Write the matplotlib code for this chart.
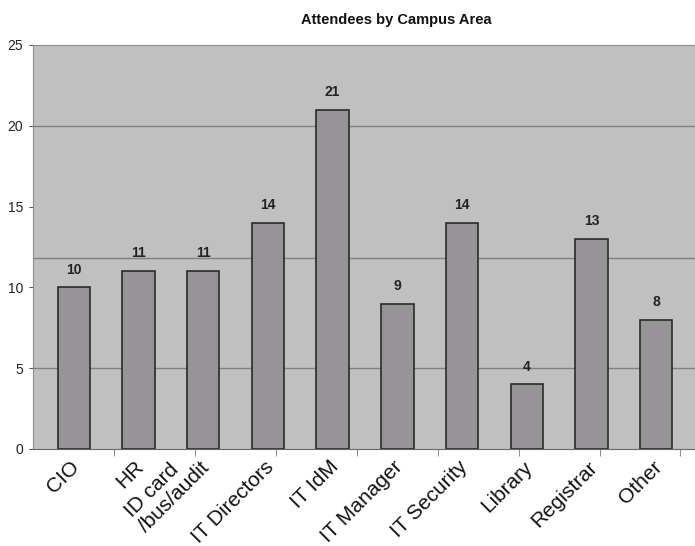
import matplotlib.pyplot as plt
import matplotlib.transforms as mtransforms
import numpy as np

areas = ['CIO', 'HR', 'ID card\n/bus/audit', 'IT Directors', 'IT IdM',
         'IT Manager', 'IT Security', 'Library', 'Registrar', 'Other']
attendees = [10, 11, 11, 14, 21, 9, 14, 4, 13, 8]
y_ticks = [0, 5, 10, 15, 20, 25]
grid_levels = [5, 11.8, 20]

plt.rcParams.update({
    'font.family': ['Liberation Sans', 'DejaVu Sans'],
})

fig = plt.figure(figsize=(6.95, 5.46), dpi=100)
ax = fig.add_axes([33 / 695, 1 - 449 / 546, 1 - 33 / 695, (449 - 45) / 546])
ax.set_facecolor('#c0c0c0')

x = np.arange(len(areas))
for g in grid_levels:
    ax.axhline(g, color='#808080', lw=1.0, zorder=1)

ax.bar(x, attendees, width=0.5, color='#969496', edgecolor='#2a2a2a',
       linewidth=1.2, zorder=2)
for xi, v in zip(x, attendees):
    ax.text(xi, v + 1.1, str(v), ha='center', va='center', fontsize=10,
            fontweight='bold', color='#222222')

ax.set_xlim(-0.63, 9.6)
ax.set_ylim(0, 25)
ax.set_yticks(y_ticks)
ax.set_yticklabels([str(t) for t in y_ticks], fontsize=10, color='#222222')
ax.tick_params(axis='y', length=3, color='#555555', pad=4)

ax.set_xticks(x)
ax.set_xticklabels(areas, rotation=45, ha='right', va='top',
                   rotation_mode='anchor', fontsize=15, color='#111111',
                   linespacing=1.1, multialignment='left')
ax.tick_params(axis='x', length=0, pad=6)
shift = mtransforms.ScaledTranslation(-4 / 100, 0, fig.dpi_scale_trans)
for lab in ax.get_xticklabels():
    lab.set_transform(lab.get_transform() + shift)
    if '\n' in lab.get_text():
        # two-line label sits higher in the original
        lab.set_verticalalignment('center')
ax.set_xticks(np.arange(0.625, 9.5, 1.25), minor=True)
ax.tick_params(axis='x', which='minor', length=5, color='#777777')

for s in ['left', 'top']:
    ax.spines[s].set_color('#8c8c8c')
ax.spines['right'].set_visible(False)
ax.spines['bottom'].set_color('#666666')

fig.text(396 / 695, 1 - 20 / 546, 'Attendees by Campus Area', ha='center',
         va='center', fontsize=10.5, fontweight='bold', color='#111111')

fig.savefig('out.png', dpi=100)
